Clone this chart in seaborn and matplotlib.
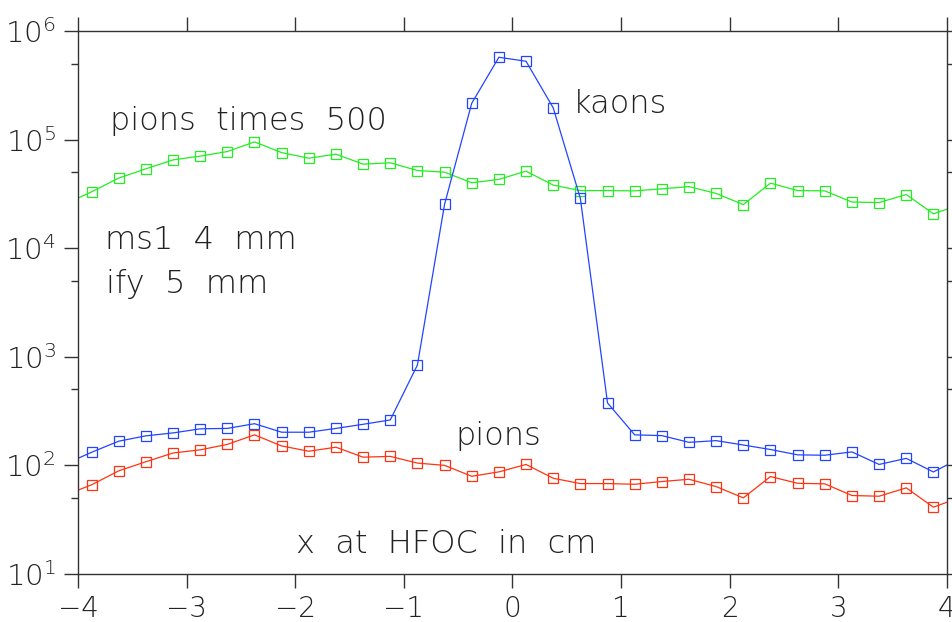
import numpy as np
import pandas as pd
import matplotlib
matplotlib.use("Agg")
import matplotlib.pyplot as plt
import matplotlib.ticker as mticker
import seaborn as sns

# ---- data ----
x_pos = [-4.125, -3.875, -3.625, -3.375, -3.125, -2.875, -2.625, -2.375, -2.125,
         -1.875, -1.625, -1.375, -1.125, -0.875, -0.625, -0.375, -0.125,
         0.125, 0.375, 0.625, 0.875, 1.125, 1.375, 1.625, 1.875, 2.125,
         2.375, 2.625, 2.875, 3.125, 3.375, 3.625, 3.875, 4.125]

pions_x500 = [25300, 33000, 44200, 53800, 65000, 70400, 77600, 95200, 75900,
              67400, 73400, 59400, 61100, 51900, 50100, 40000, 43000,
              51200, 38100, 33900, 33900, 33700, 35200, 36900, 31900, 25200,
              39700, 33900, 33700, 26600, 26300, 31200, 20700, 25300]

kaons = [102, 132, 167, 187, 199, 217, 219, 242, 202,
         202, 219, 239, 262, 840, 25400, 216000, 573000,
         526000, 196000, 28700, 376, 191, 188, 163, 169, 154,
         140, 125, 124, 133, 102, 116, 87, 117]

pions = [52.8, 66.2, 89.0, 108, 130, 139, 156, 191, 151,
         135, 147, 119, 121, 105, 100, 79.4, 87.1,
         102, 76.1, 68.0, 68.0, 67.0, 71.0, 74.5, 63.8, 50.2,
         78.9, 68.4, 67.6, 52.8, 52.0, 62.1, 41.2, 50.9]

x_ticks = [-4, -3, -2, -1, 0, 1, 2, 3, 4]

series_names = ["pions times 500", "kaons", "pions"]
series_colors = ["#22ee22", "#2244ff", "#ff3311"]

df = pd.DataFrame({"x": x_pos, "pions times 500": pions_x500,
                   "kaons": kaons, "pions": pions})

# ---- figure ----
sns.set_theme(style="white")
plt.rcParams["font.family"] = ["DejaVu Sans"]
plt.rcParams["font.weight"] = 200
plt.rcParams["mathtext.default"] = "regular"
TXT = "#222222"

fig = plt.figure(figsize=(9.53, 6.22), dpi=100)
ax = fig.add_axes([0.0818, 0.0772, 0.9937 - 0.0818, 0.9502 - 0.0772])

for name, col in zip(series_names, series_colors):
    sns.lineplot(data=df, x="x", y=name, ax=ax, color=col, linewidth=0.9,
                 marker="s", markersize=7, markerfacecolor="none",
                 markeredgecolor=col, markeredgewidth=0.9, sort=False,
                 estimator=None)

ax.set_yscale("log")
ax.set_xlim(-4, 4)
ax.set_ylim(10, 1e6)
ax.set_xlabel("")
ax.set_ylabel("")

ax.xaxis.set_major_locator(mticker.FixedLocator(x_ticks))
ax.xaxis.set_minor_locator(mticker.NullLocator())
ax.yaxis.set_major_locator(mticker.LogLocator(base=10, numticks=10))
ax.yaxis.set_minor_locator(mticker.LogLocator(base=10, subs=[5.0], numticks=10))
ax.yaxis.set_minor_formatter(mticker.NullFormatter())
ax.yaxis.set_major_formatter(mticker.LogFormatterSciNotation())

for s in ax.spines.values():
    s.set_color("#333333")
    s.set_linewidth(1.0)
    s.set_visible(True)

ax.tick_params(axis="both", which="major", direction="out", length=10,
               width=1.0, color="#333333", labelcolor=TXT,
               top=True, right=True, bottom=True, left=True)
ax.tick_params(axis="x", which="major", pad=5, labelsize=20)
ax.tick_params(axis="y", which="major", pad=6, labelsize=21)
ax.tick_params(axis="y", which="minor", direction="out", length=5,
               width=1.0, color="#333333", left=True, right=True)
ax.grid(False)
leg = ax.get_legend()
if leg is not None:
    leg.remove()

fs = 23

def put(txt, px, py):
    # pixel coordinates from the top-left of the figure
    ax.text(px / 953, 1 - py / 622, txt, transform=fig.transFigure,
            fontsize=fs, color=TXT, ha="left", va="baseline")

put("pions  times  500", 110, 130)
put("kaons", 573, 113)
put("ms1  4  mm", 105, 249)
put("ify  5  mm", 106, 293)
put("pions", 455, 445)
put("x  at  HFOC  in  cm", 296, 553)

fig.savefig("out.png", dpi=100)
